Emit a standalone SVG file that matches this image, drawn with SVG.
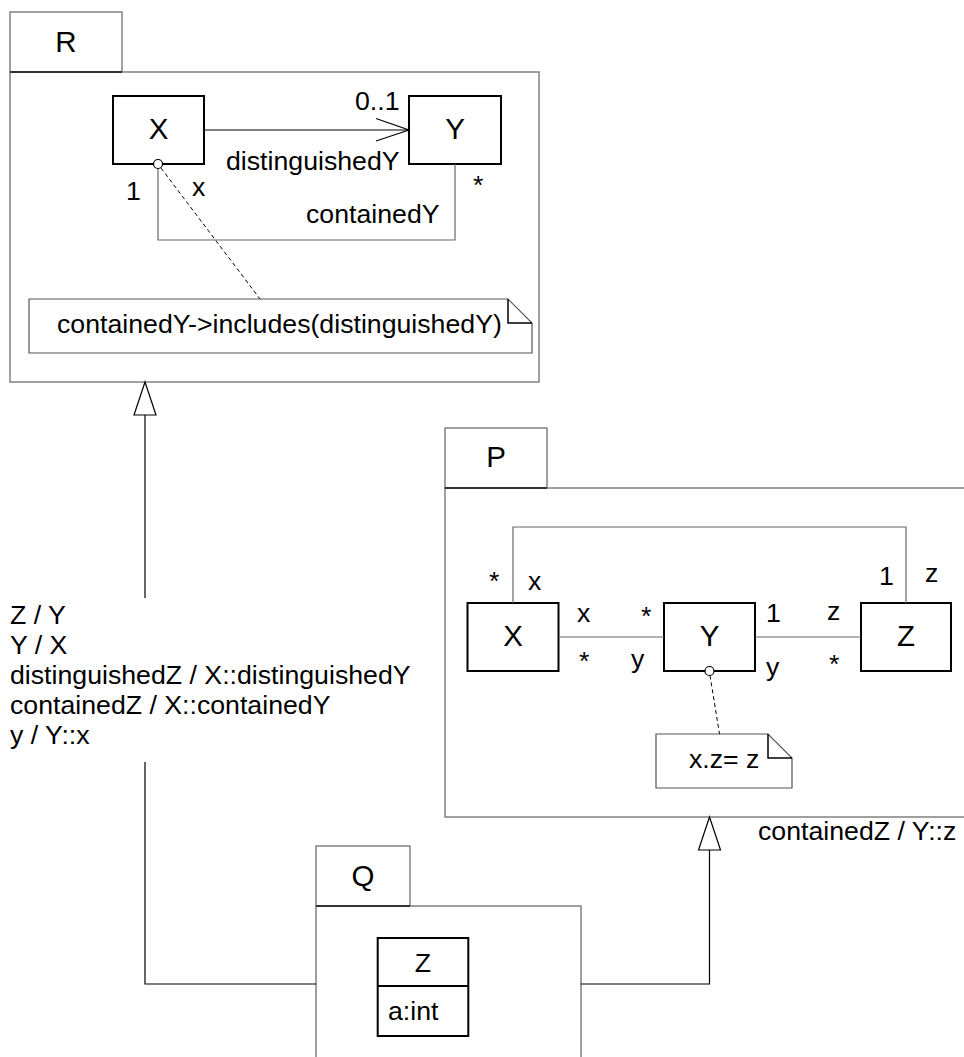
<svg xmlns="http://www.w3.org/2000/svg" width="964" height="1057" viewBox="0 0 964 1057">
<style>
text{font-family:"Liberation Sans",Arial,sans-serif;fill:#000}
.lbl{font-size:26.7px}
.nm{font-size:29.5px;text-anchor:middle}
.pkg{fill:#fff;stroke:#808080;stroke-width:1.5}
.tabb{stroke:#333;stroke-width:2;fill:none}
.cls{fill:#fff;stroke:#000;stroke-width:2}
.asc{fill:none;stroke:#666;stroke-width:1.2}
.gen{fill:none;stroke:#000;stroke-width:1.2}
.tri{fill:#fff;stroke:#000;stroke-width:1.2}
.note{fill:#fff;stroke:#555;stroke-width:1.2}
.fold{fill:none;stroke:#000;stroke-width:1.5}
.dash{fill:none;stroke:#000;stroke-width:1;stroke-dasharray:4,3}
.circ{fill:#fff;stroke:#000;stroke-width:1.2}
</style>

<g id="pkg-R">
<rect class="pkg" x="10" y="12" width="112" height="60"/>
<rect class="pkg" x="10" y="72" width="529" height="310"/>
<line class="tabb" x1="10" y1="72" x2="122" y2="72"/>
<text class="nm" x="66" y="52">R</text>
</g>

<g id="R-X">
<rect class="cls" x="113" y="96" width="91" height="68"/>
<text class="nm" x="158.5" y="139">X</text>
</g>
<g id="R-Y">
<rect class="cls" x="409" y="96" width="92" height="68"/>
<text class="nm" x="455" y="139">Y</text>
</g>
<g id="R-note">
<path class="note" d="M29,299 H508 L532,323 V353 H29 Z"/>
<path class="fold" d="M508,299 V323 H532"/>
<text class="lbl" x="57" y="333">containedY-&gt;includes(distinguishedY)</text>
</g>

<g id="pkg-P">
<rect class="pkg" x="445" y="428" width="102" height="60"/>
<rect class="pkg" x="445" y="488" width="530" height="329"/>
<line class="tabb" x1="445" y1="488" x2="547" y2="488"/>
<text class="nm" x="496" y="467">P</text>
</g>
<g id="P-X">
<rect class="cls" x="467.5" y="603" width="91" height="68"/>
<text class="nm" x="513" y="646">X</text>
</g>
<g id="P-Y">
<rect class="cls" x="664" y="603" width="91" height="68"/>
<text class="nm" x="709.5" y="646">Y</text>
</g>
<g id="P-Z">
<rect class="cls" x="861" y="603" width="90" height="68"/>
<text class="nm" x="906" y="646">Z</text>
</g>
<g id="P-note">
<path class="note" d="M656,734 H768 L792,758 V788 H656 Z"/>
<path class="fold" d="M768,734 V758 H792"/>
<text class="lbl" x="689" y="768">x.z= z</text>
</g>

<g id="pkg-Q">
<rect class="pkg" x="316" y="846" width="94" height="60"/>
<rect class="pkg" x="316" y="906" width="265" height="170"/>
<line class="tabb" x1="316" y1="906" x2="410" y2="906"/>
<text class="nm" x="363" y="886">Q</text>
</g>
<g id="Q-Z">
<rect class="cls" x="377.7" y="938" width="90.6" height="98"/>
<line class="cls" x1="377.7" y1="986" x2="468.3" y2="986"/>
<text class="lbl" x="423" y="971.5" text-anchor="middle">Z</text>
<text class="lbl" x="388" y="1020">a:int</text>
</g>

<g id="connectors">
<!-- R: distinguishedY -->
<line class="gen" x1="204" y1="130" x2="409" y2="130"/>
<polyline class="gen" points="376,118.5 409,130 376,141"/>
<!-- R: containedY -->
<polyline class="asc" points="158,168 158,240 455,240 455,164"/>
<circle class="circ" cx="158" cy="164" r="4.5"/>
<line class="dash" x1="161" y1="168" x2="260" y2="299"/>
<!-- P associations -->
<line class="asc" x1="558.5" y1="637" x2="664" y2="637"/>
<line class="asc" x1="755" y1="637" x2="861" y2="637"/>
<polyline class="asc" points="513,603 513,527 906,527 906,603"/>
<circle class="circ" cx="709.5" cy="671" r="4.5"/>
<line class="dash" x1="710" y1="675.5" x2="719.5" y2="734"/>
<!-- Q -> R generalization -->
<polyline class="gen" points="316,984 145,984 145,762"/>
<line class="gen" x1="145" y1="598" x2="145" y2="415"/>
<polygon class="tri" points="145,382 134,415 156,415"/>
<!-- Q -> P generalization -->
<polyline class="gen" points="581,984 709.5,984 709.5,850"/>
<polygon class="tri" points="709.5,817 698.5,850 720.5,850"/>
</g>

<g id="labels">
<text class="lbl" x="355" y="110">0..1</text>
<text class="lbl" x="226" y="170">distinguishedY</text>
<text class="lbl" x="126" y="200">1</text>
<text class="lbl" x="192" y="196">x</text>
<text class="lbl" x="306" y="223">containedY</text>
<text class="lbl" x="473" y="194">*</text>

<text class="lbl" x="489" y="590">*</text>
<text class="lbl" x="528" y="590">x</text>
<text class="lbl" x="577" y="622">x</text>
<text class="lbl" x="641" y="625">*</text>
<text class="lbl" x="579" y="670">*</text>
<text class="lbl" x="631" y="668">y</text>
<text class="lbl" x="766" y="622">1</text>
<text class="lbl" x="827" y="620">z</text>
<text class="lbl" x="766" y="676">y</text>
<text class="lbl" x="829" y="673">*</text>
<text class="lbl" x="879" y="585">1</text>
<text class="lbl" x="925" y="582">z</text>

<text class="lbl" x="10" y="624">Z / Y</text>
<text class="lbl" x="10" y="654">Y / X</text>
<text class="lbl" x="10" y="684">distinguishedZ / X::distinguishedY</text>
<text class="lbl" x="10" y="714">containedZ / X::containedY</text>
<text class="lbl" x="10" y="744">y / Y::x</text>

<text class="lbl" x="758" y="840">containedZ / Y::z</text>
</g>
</svg>
